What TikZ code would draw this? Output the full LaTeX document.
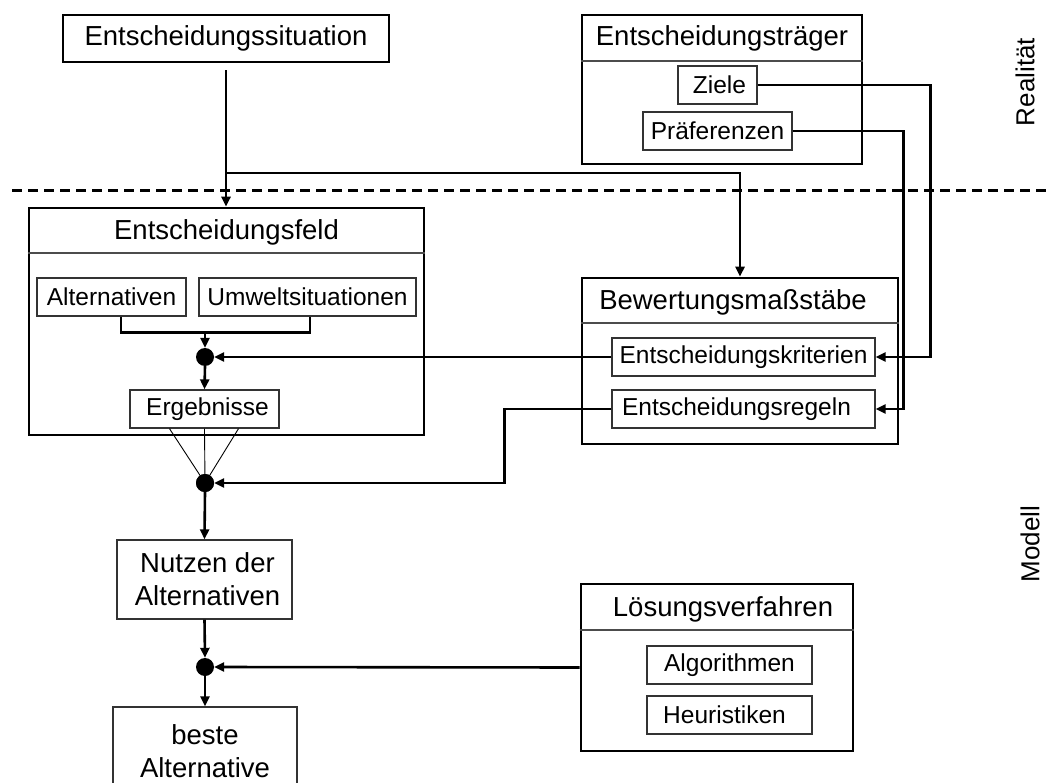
\documentclass[tikz,border=0pt]{standalone}
\usepackage{fontspec}
\setmainfont{Liberation Sans}
\usepackage{tikz}
\usetikzlibrary{positioning}
\usetikzlibrary{arrows.meta}

\tikzset{
  bigfont/.style={font=\fontsize{27.5pt}{33pt}\selectfont},
  smallfont/.style={font=\fontsize{24.5pt}{29pt}\selectfont},
  outerbox/.style={draw, line width=2.6pt, inner sep=0pt},
  innerbox/.style={draw=black!80, line width=1.3pt, inner sep=0pt, smallfont},
  titletext/.style={inner sep=0pt, bigfont},
  seprule/.style={draw=black!70, line width=1.2pt},
  junction/.style={circle, fill=black, inner sep=0pt, minimum size=18pt},
  conn/.style={line width=2.6pt},
  arr/.style={conn, -{Triangle[length=10pt,width=9pt]}},
  fanline/.style={line width=0.9pt},
  sidelabel/.style={rotate=90, inner sep=0pt, font=\fontsize{26pt}{31pt}\selectfont}
}

\begin{document}
\begin{tikzpicture}[x=1pt, y=-1pt]
    \useasboundingbox (0,0) rectangle (1046,783);
    \clip (0,0) rectangle (1046,783);

    % Realitaet / Modell
    \draw[line width=3pt, dash pattern=on 10pt off 6pt] (12,191) -- (1046,191);
    \node[sidelabel] (realitaet) at (1025,82) {Realität};
    \node[sidelabel] (modell) at (1030,544) {Modell};

    % Entscheidungssituation
    \node[outerbox, bigfont, minimum width=326pt, minimum height=47pt] (situation) at (226,38.5) {Entscheidungssituation};

    % Entscheidungstraeger
    \node[outerbox, minimum width=280pt, minimum height=149pt] (traeger) at (722,89.5) {};
    \node[titletext] (traegertitle) at (722,38) {Entscheidungsträger};
    \draw[seprule] (traeger.west |- 0,61) -- (traeger.east |- 0,61);
    \node[innerbox, minimum width=79pt, minimum height=38pt] (ziele) at (717.5,85) {\hspace*{4pt}Ziele};
    \node[innerbox, minimum width=149pt, minimum height=38pt] (praef) at (717.5,131) {Präferenzen};

    % Entscheidungsfeld
    \node[outerbox, minimum width=395pt, minimum height=227pt] (feld) at (226.5,321.5) {};
    \node[titletext] (feldtitle) at (226.5,232) {Entscheidungsfeld};
    \draw[seprule] (feld.west |- 0,253) -- (feld.east |- 0,253);
    \node[innerbox, minimum width=149pt, minimum height=38pt] (alt) at (111.5,297) {Alternativen};
    \node[innerbox, minimum width=217pt, minimum height=38pt] (umwelt) at (307.5,297) {Umweltsituationen};
    \node[junction] (dot1) at (205,357) {};
    \node[innerbox, minimum width=149pt, minimum height=38pt] (ergeb) at (204.5,409) {\hspace*{6pt}Ergebnisse};

    % Bewertungsmassstaebe
    \node[outerbox, minimum width=316pt, minimum height=166pt] (bewert) at (740,361) {};
    \node[titletext] (bewerttitle) at (733,302) {Bewertungsmaßstäbe};
    \draw[seprule] (bewert.west |- 0,323) -- (bewert.east |- 0,323);
    \node[innerbox, minimum width=263pt, minimum height=38pt] (krit) at (743.5,357) {Entscheidungskriterien};
    \node[innerbox, minimum width=263pt, minimum height=38pt] (regeln) at (743.5,409) {Entscheidungsregeln\hspace*{14pt}};

    % Ergebnisbewertung
    \node[junction] (dot2) at (205,483) {};
    \node[outerbox, line width=1.3pt, draw=black!80, bigfont, align=center, minimum width=175pt, minimum height=79pt] (nutzen) at (204.5,579.5) {\hspace*{6pt}Nutzen der\\ \hspace*{6pt}Alternativen};
    \node[junction] (dot3) at (205,667) {};
    \node[outerbox, line width=1.3pt, draw=black!80, bigfont, align=center, minimum width=184pt, minimum height=88pt] (beste) at (205,751) {beste\\ Alternative};

    % Loesungsverfahren
    \node[outerbox, minimum width=272pt, minimum height=167pt] (loesung) at (717,667.5) {};
    \node[titletext] (loesungtitle) at (723,609) {Lösungsverfahren};
    \draw[seprule] (loesung.west |- 0,630) -- (loesung.east |- 0,630);
    \node[innerbox, minimum width=165pt, minimum height=38pt] (algo) at (729.5,665) {Algorithmen};
    \node[innerbox, minimum width=165pt, minimum height=38pt] (heur) at (729.5,715) {Heuristiken\hspace*{10pt}};

    % Connectors
    \coordinate (split) at (226,173);
    \draw[arr] ([yshift=-7pt]situation.south) -- (situation.south |- feld.north);
    \draw[arr] (split) -| (bewert.north);
    \draw[arr] (ziele.east) -- ++(173,0) |- (krit.east);
    \draw[arr] (praef.east) -- ++(111,0) |- (regeln.east);
    \draw[conn] ([xshift=9.5pt]alt.south) -- ++(0,16) -| ([xshift=2.5pt]umwelt.south);
    \draw[arr] (dot1 |- 0,332) -- (dot1.north);
    \draw[arr] (krit.west) -- (dot1.east);
    \draw[arr] (dot1.south) -- (ergeb.north);

    % Fan to dot2
    \draw[fanline] ([xshift=-35pt]ergeb.south) -- (dot2.center);
    \draw[fanline] (ergeb.south) -- (dot2.center);
    \draw[fanline] ([xshift=34pt]ergeb.south) -- (dot2.center);
    \node[junction] at (dot2) {};

    \draw[arr] (regeln.west) -- ++(-107,0) |- (dot2.east);
    \draw[arr] (dot2.south) -- (nutzen.north);
    \draw[arr] (nutzen.south) -- (dot3.north);
    \draw[arr] (loesung.west) -- (dot3.east);
    \draw[arr] (dot3.south) -- (beste.north);
\end{tikzpicture}
\end{document}
